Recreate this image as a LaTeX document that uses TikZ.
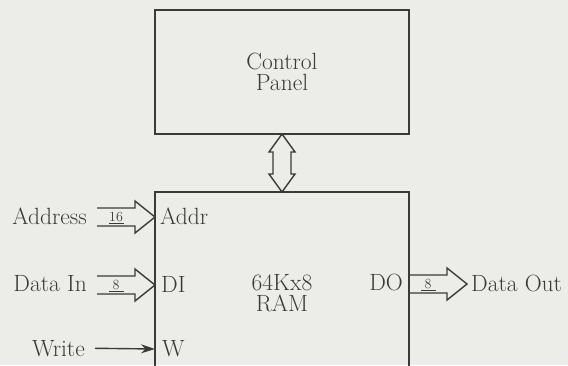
\documentclass[tikz,border=0pt]{standalone}
\usetikzlibrary{calc,arrows.meta}
\definecolor{ink}{RGB}{58,58,58}
\definecolor{paper}{RGB}{236,236,233}
\newcommand\fatarrow[3]{%
  \draw[fatline] ($(#1)+(-20-#2,-9)$) -- ++(#2,0) -- ++(0,-7) -- (#1) -- ++(-20,16) -- ++(0,-7) -- ++(-#2,0);
  \node[num] at ($(#1)+(-20-#2/2,0.5)$) {\underline{\makebox[15pt]{#3}}};
}
\begin{document}
\begin{tikzpicture}[x=1pt,y=-1pt,
  every node/.style={text=ink, font=\fontsize{23.5}{21.5}\selectfont},
  box/.style={draw=ink, line width=1.5pt, minimum width=254pt, outer sep=0pt, inner sep=0pt, align=center},
  lbl/.style={inner sep=0pt},
  fatline/.style={draw=ink, line width=1.4pt, line join=miter},
  num/.style={font=\fontsize{14}{14}\selectfont, inner sep=0pt}]
\fill[paper] (0,0) rectangle (568,365);
\clip (0,0) rectangle (568,365);

\node[box, minimum height=124pt] (cp) at (282,72) {Control\\Panel};
\node[box, minimum height=202pt] (ram) at (282,293) {64Kx8\\RAM};

\path (ram.north west) ++(0,25) coordinate (atip);
\path (ram.north west) ++(0,93) coordinate (dtip);
\path (ram.north west) ++(0,157) coordinate (wtip);
\path (ram.north east) ++(58,92) coordinate (otip);

% double arrow between panel and RAM
\draw[fatline] (cp.south) -- ++(13,18) -- ++(-4,0) -- ($(ram.north)+(9,-18)$) -- ++(4,0)
  -- (ram.north) -- ++(-13,-18) -- ++(4,0) -- ($(cp.south)+(-9,18)$) -- ++(-4,0) -- cycle;

% inputs and output
\fatarrow{atip}{38}{16}
\fatarrow{dtip}{38}{8}
\fatarrow{otip}{38}{8}

\node[lbl, anchor=base east] (addr) at (87,224) {Address};
\node[lbl, anchor=base east] (din) at (87,291) {Data In};
\node[lbl, anchor=base east] (wr) at (85,356) {Write};
\node[lbl, anchor=base east] (dout) at (403,290) {DO};
\node[lbl, anchor=base west] (dataout) at (471,291) {Data Out};
\node[lbl, anchor=base west] (paddr) at (160,224) {Addr};
\node[lbl, anchor=base west] (pdi) at (161,292) {DI};
\node[lbl, anchor=base west] (pw) at (162,356) {W};

\draw[ink, line width=1.4pt, -{Stealth[length=14pt,width=9pt]}, shorten <=10pt] (wr.east) -- (wtip);
\end{tikzpicture}
\end{document}
